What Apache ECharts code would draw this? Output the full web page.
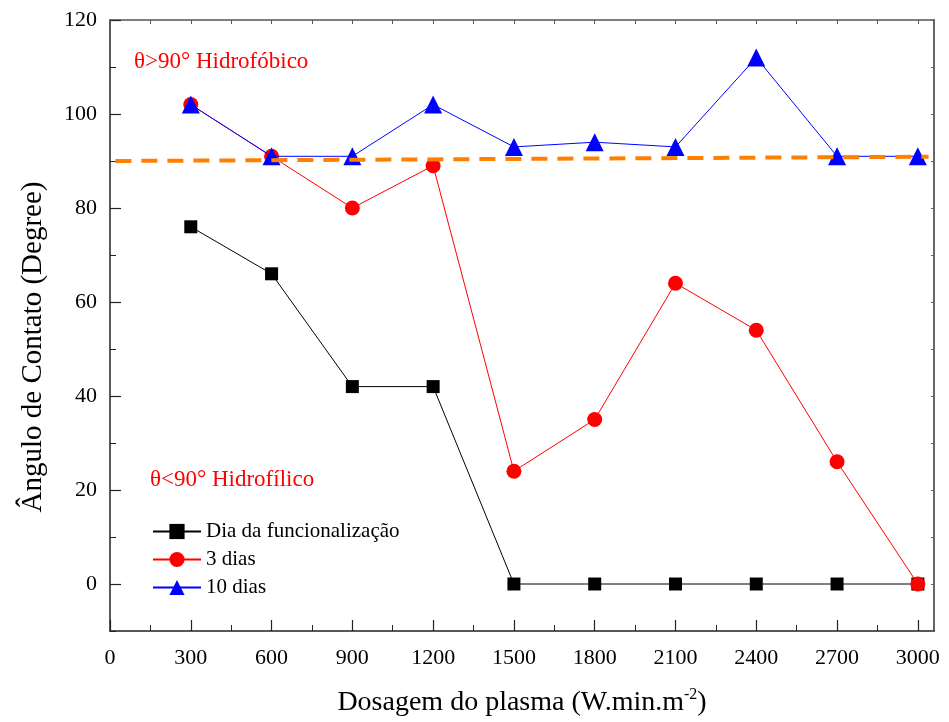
<!DOCTYPE html>
<html><head><meta charset="utf-8">
<script src="https://cdn.jsdelivr.net/npm/echarts@6/dist/echarts.min.js"></script>
<style>html,body{margin:0;padding:0;background:#fff}#c{width:949px;height:722px}</style>
</head><body><div id="c"></div>
<script>
var dosagem = [300, 600, 900, 1200, 1500, 1800, 2100, 2400, 2700, 3000];
var diaFunc = [76, 66, 42, 42, 0, 0, 0, 0, 0, 0];
var tresDias = [102, 91, 80, 89, 24, 35, 64, 54, 26, 0];
var dezDias = [102, 91, 91, 102, 93, 94, 93, 112, 91, 91];
var limiteX = [20, 3040];
var limiteY = [90.0, 90.9];
var xMajor = [0, 300, 600, 900, 1200, 1500, 1800, 2100, 2400, 2700, 3000];
var xMinor = [150, 450, 750, 1050, 1350, 1650, 1950, 2250, 2550, 2850];
var yMajor = [0, 20, 40, 60, 80, 100, 120];
var yMinor = [-10, 10, 30, 50, 70, 90, 110];

function pairs(xs, ys){ return xs.map(function(x,i){return [x, ys[i]];}); }
function plain(v){ return String(v); }
var FONT = '"Liberation Serif", "Times New Roman", serif';
var chart = echarts.init(document.getElementById('c'));
var baseAxis = {type:'value', min:0, max:3060};
var baseY = {type:'value', min:-10, max:120};
chart.setOption({
  animation:false,
  textStyle:{fontFamily:FONT},
  grid:{left:110, right:15, top:20, bottom:90},
  xAxis:[
    Object.assign({}, baseAxis, {position:'bottom',
      name:'Dosagem do plasma (W.min.m{sup|-2})', nameLocation:'middle', nameGap:56,
      nameTextStyle:{fontFamily:FONT, fontSize:28, color:'#000', rich:{sup:{fontFamily:FONT, fontSize:16, color:'#000', padding:[0,0,16,0]}}},
      axisLine:{show:true, onZero:false, lineStyle:{color:'#222', width:1.5}},
      axisTick:{show:true, inside:true, length:11, customValues:xMajor, lineStyle:{color:'#222', width:1.2}},
      axisLabel:{customValues:xMajor, formatter:plain, fontFamily:FONT, fontSize:22, color:'#000', margin:16},
      splitLine:{show:false}}),
    Object.assign({}, baseAxis, {position:'bottom',
      axisLine:{show:false, onZero:false},
      axisTick:{show:true, inside:true, length:6, customValues:xMinor, lineStyle:{color:'#222', width:1}},
      axisLabel:{show:false}, splitLine:{show:false}}),
    Object.assign({}, baseAxis, {position:'top',
      axisLine:{show:true, onZero:false, lineStyle:{color:'#555', width:1.5}},
      axisTick:{show:true, inside:true, length:4, customValues:xMajor.concat(xMinor), lineStyle:{color:'#555'}},
      axisLabel:{show:false}, splitLine:{show:false}})
  ],
  yAxis:[
    Object.assign({}, baseY, {position:'left',
      axisLine:{show:true, onZero:false, lineStyle:{color:'#222', width:1.5}},
      axisTick:{show:true, inside:true, length:11, customValues:yMajor, lineStyle:{color:'#222', width:1.2}},
      axisLabel:{customValues:yMajor, formatter:plain, fontFamily:FONT, fontSize:22, color:'#000', margin:13},
      splitLine:{show:false}}),
    Object.assign({}, baseY, {position:'left',
      axisLine:{show:false, onZero:false},
      axisTick:{show:true, inside:true, length:6, customValues:yMinor, lineStyle:{color:'#222', width:1}},
      axisLabel:{show:false}, splitLine:{show:false}}),
    Object.assign({}, baseY, {position:'right',
      axisLine:{show:true, onZero:false, lineStyle:{color:'#666', width:2}},
      axisTick:{show:true, inside:true, length:3, customValues:yMajor.concat(yMinor), lineStyle:{color:'#666'}},
      axisLabel:{show:false}, splitLine:{show:false}})
  ],
  legend:{
    data:['Dia da funcionalização','3 dias','10 dias'],
    orient:'vertical', left:152, top:521, padding:0, itemWidth:48, itemHeight:19, itemGap:7,
    textStyle:{fontFamily:FONT, fontSize:21, color:'#000'}
  },
  graphic:[
    {type:'text', x:33, y:347, rotation:Math.PI/2,
     style:{text:'Ângulo de Contato (Degree)', fill:'#000', font:'29px '+FONT, align:'center', verticalAlign:'middle'}},
    {type:'text', left:134, top:50, style:{text:'θ>90° Hidrofóbico', fill:'#f00', font:'23px '+FONT}},
    {type:'text', left:150, top:468, style:{text:'θ<90° Hidrofílico', fill:'#f00', font:'23px '+FONT}}
  ],
  series:[
    {name:'Dia da funcionalização', type:'line', data:pairs(dosagem, diaFunc),
     symbol:'rect', symbolSize:13, itemStyle:{color:'#000'}, lineStyle:{color:'#000', width:1}, z:2},
    {name:'3 dias', type:'line', data:pairs(dosagem, tresDias),
     symbol:'circle', symbolSize:15, itemStyle:{color:'#f00'}, lineStyle:{color:'#f00', width:1}, z:3},
    {name:'10 dias', type:'line', data:pairs(dosagem, dezDias),
     symbol:'triangle', symbolSize:18, itemStyle:{color:'#00f'}, lineStyle:{color:'#00f', width:1}, z:4},
    {name:'limite', type:'line', data:pairs(limiteX, limiteY), symbol:'none',
     lineStyle:{color:'#ff8000', width:4, type:[16,10]}, z:5, silent:true}
  ]
});
</script></body></html>
